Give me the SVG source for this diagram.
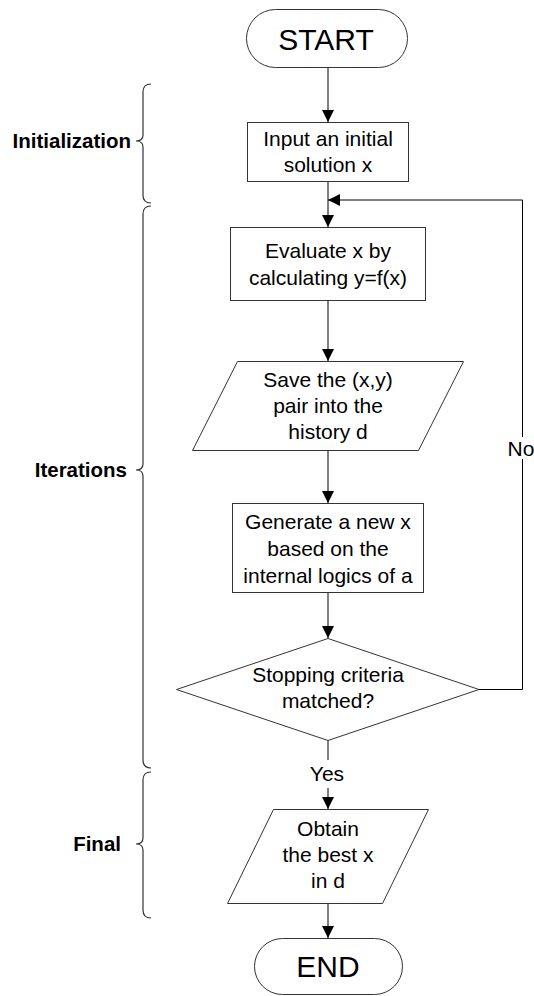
<svg xmlns="http://www.w3.org/2000/svg" width="534" height="996" viewBox="0 0 534 996">
<defs>
<style>
.shape{fill:#fff;stroke:#333;stroke-width:1}
.conn{fill:none;stroke:#000;stroke-width:1}
.brace{fill:none;stroke:#333;stroke-width:1.2}
.t{font-family:"Liberation Sans",Arial,sans-serif;font-size:21px;fill:#000;text-anchor:middle}
.big{font-size:30px}
.lbl{font-family:"Liberation Sans",Arial,sans-serif;font-size:20.5px;font-weight:bold;fill:#000;text-anchor:end}
</style>
<marker id="ah" viewBox="0 0 12 12" refX="12" refY="6" markerWidth="12" markerHeight="12" markerUnits="userSpaceOnUse" orient="auto">
<path d="M0,0 L12,6 L0,12 Z" fill="#000"/>
</marker>
</defs>
<rect width="534" height="996" fill="#fff"/>

<g id="connectors">
<path class="conn" d="M328,68 V122" marker-end="url(#ah)"/>
<path class="conn" d="M328,181 V227" marker-end="url(#ah)"/>
<path class="conn" d="M328,301 V361" marker-end="url(#ah)"/>
<path class="conn" d="M328,450 V503" marker-end="url(#ah)"/>
<path class="conn" d="M328,592 V638" marker-end="url(#ah)"/>
<path class="conn" d="M328,740 V760"/>
<path class="conn" d="M328,788 V809" marker-end="url(#ah)"/>
<path class="conn" d="M328,903 V938" marker-end="url(#ah)"/>
<path class="conn" d="M479,689.5 H522.5 V459"/>
<path class="conn" d="M522.5,437 V200 H328" marker-end="url(#ah)"/>
<text class="t" x="521" y="456">No</text>
<text class="t" x="327" y="781">Yes</text>
</g>

<g id="start">
<rect class="shape" x="246.5" y="9.5" width="161" height="58" rx="29" ry="29"/>
<text class="t big" x="326" y="50">START</text>
</g>

<g id="input">
<rect class="shape" x="247.5" y="122.5" width="161" height="59"/>
<text class="t" x="328" y="146">Input an initial</text>
<text class="t" x="328" y="172">solution x</text>
</g>

<g id="evaluate">
<rect class="shape" x="230.5" y="227.5" width="195" height="73"/>
<text class="t" x="328" y="258">Evaluate x by</text>
<text class="t" x="328" y="285">calculating y=f(x)</text>
</g>

<g id="save">
<polygon class="shape" points="237.5,361.5 463.5,361.5 418.5,450.5 192.5,450.5"/>
<text class="t" x="328" y="387">Save the (x,y)</text>
<text class="t" x="328" y="413">pair into the</text>
<text class="t" x="328" y="439">history d</text>
</g>

<g id="generate">
<rect class="shape" x="232.5" y="503.5" width="191" height="89"/>
<text class="t" x="328" y="529">Generate a new x</text>
<text class="t" x="328" y="556">based on the</text>
<text class="t" x="328" y="583">internal logics of a</text>
</g>

<g id="decision">
<polygon class="shape" points="328,638.5 479,689.5 328,740.5 176.5,689.5"/>
<text class="t" x="328" y="682">Stopping criteria</text>
<text class="t" x="328" y="708">matched?</text>
</g>

<g id="obtain">
<polygon class="shape" points="273.5,809.5 428.5,809.5 382.5,903.5 227.5,903.5"/>
<text class="t" x="328" y="836">Obtain</text>
<text class="t" x="328" y="862">the best x</text>
<text class="t" x="328" y="888">in d</text>
</g>

<g id="end">
<rect class="shape" x="254.5" y="938.5" width="148" height="56" rx="28" ry="28"/>
<text class="t big" x="328" y="977">END</text>
</g>

<g id="phases">
<path class="brace" d="M151,84 Q143,84 143,92 L143,135 Q143,141 136,141 Q143,141 143,147 L143,195 Q143,203 151,203"/>
<text class="lbl" x="131" y="148">Initialization</text>
<path class="brace" d="M151,206 Q143,206 143,214 L143,464 Q143,470 136,470 Q143,470 143,476 L143,760 Q143,768 151,768"/>
<text class="lbl" x="127" y="477">Iterations</text>
<path class="brace" d="M151,772 Q143,772 143,780 L143,838 Q143,844 136,844 Q143,844 143,850 L143,910 Q143,918 151,918"/>
<text class="lbl" x="121" y="851">Final</text>
</g>
</svg>
